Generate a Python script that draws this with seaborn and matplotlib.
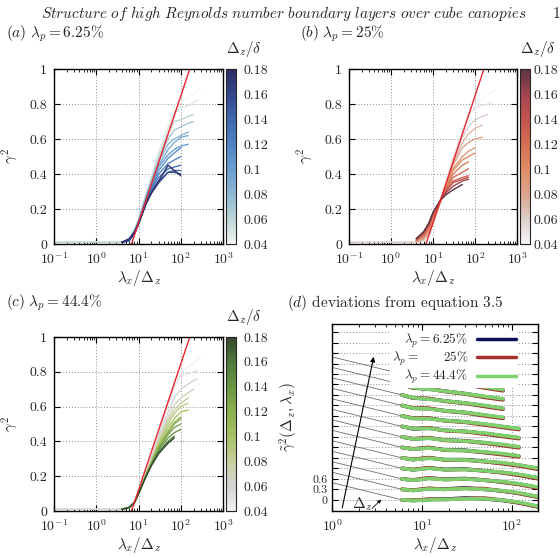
import numpy as np
import pandas as pd
import seaborn as sns
import matplotlib.pyplot as plt
from matplotlib.colors import LinearSegmentedColormap, Normalize
from matplotlib.cm import ScalarMappable
from matplotlib.lines import Line2D
from matplotlib.ticker import LogLocator, NullFormatter

sns.set_theme(style='ticks')
plt.rcParams['font.family'] = ['cmr10', 'DejaVu Serif']
plt.rcParams['mathtext.fontset'] = 'cm'
plt.rcParams['axes.formatter.use_mathtext'] = True

nan = np.nan

# ---- data for panels (a)-(c): gamma^2 against lambda_x / Delta_z
lam_ratio = [0.1, 1, 4, 6, 8, 10, 15, 20, 30, 50, 70, 100, 150, 200, 250, 300]
dz_levels = [0.04, 0.05, 0.06, 0.07, 0.08, 0.09, 0.10, 0.11, 0.12, 0.13, 0.14, 0.16, 0.18]

gamma_a = [
    [0.01, 0.01, 0.01, 0.03, 0.09, 0.15, 0.29, 0.39, 0.53, 0.68, 0.77, 0.81, 0.84, 0.86, 0.88, 0.89],
    [0.01, 0.01, 0.01, 0.03, 0.08, 0.14, 0.28, 0.38, 0.52, 0.66, 0.75, 0.78, 0.79, 0.81, 0.82, nan],
    [0.01, 0.01, 0.01, 0.03, 0.08, 0.14, 0.28, 0.37, 0.50, 0.63, 0.70, 0.71, 0.73, 0.74, nan, nan],
    [nan, nan, 0.01, 0.02, 0.07, 0.13, 0.27, 0.36, 0.48, 0.60, 0.65, 0.67, 0.69, 0.70, nan, nan],
    [nan, nan, 0.01, 0.02, 0.07, 0.13, 0.27, 0.35, 0.47, 0.57, 0.60, 0.62, 0.64, nan, nan, nan],
    [nan, nan, 0.01, 0.02, 0.07, 0.13, 0.26, 0.34, 0.45, 0.54, 0.58, 0.61, 0.62, nan, nan, nan],
    [nan, nan, 0.01, 0.02, 0.07, 0.13, 0.26, 0.34, 0.44, 0.51, 0.54, 0.56, 0.57, nan, nan, nan],
    [nan, nan, 0.01, 0.02, 0.07, 0.12, 0.25, 0.33, 0.42, 0.49, 0.52, 0.55, nan, nan, nan, nan],
    [nan, nan, 0.01, 0.02, 0.06, 0.12, 0.24, 0.32, 0.40, 0.46, 0.48, 0.50, nan, nan, nan, nan],
    [nan, nan, 0.01, 0.02, 0.06, 0.12, 0.24, 0.31, 0.38, 0.43, 0.44, 0.45, nan, nan, nan, nan],
    [nan, nan, 0.01, 0.02, 0.06, 0.12, 0.23, 0.30, 0.36, 0.41, 0.42, 0.42, nan, nan, nan, nan],
    [nan, nan, 0.01, 0.02, 0.06, 0.11, 0.23, 0.29, 0.35, 0.41, 0.41, 0.40, nan, nan, nan, nan],
    [nan, nan, 0.01, 0.03, 0.07, 0.12, 0.23, 0.29, 0.36, 0.45, 0.42, 0.39, nan, nan, nan, nan],
]
gamma_b = [
    [0.01, 0.01, 0.01, 0.02, 0.05, 0.11, 0.25, 0.35, 0.50, 0.66, 0.75, 0.79, 0.83, 0.85, 0.87, 0.88],
    [0.01, 0.01, 0.01, 0.02, 0.05, 0.11, 0.24, 0.34, 0.49, 0.64, 0.73, 0.78, 0.79, 0.80, 0.81, nan],
    [0.01, 0.01, 0.01, 0.02, 0.06, 0.12, 0.24, 0.34, 0.48, 0.61, 0.67, 0.71, 0.73, 0.74, nan, nan],
    [nan, nan, 0.01, 0.03, 0.06, 0.12, 0.24, 0.33, 0.46, 0.58, 0.63, 0.66, 0.68, nan, nan, nan],
    [nan, nan, 0.01, 0.03, 0.07, 0.13, 0.24, 0.33, 0.45, 0.55, 0.58, 0.60, 0.61, nan, nan, nan],
    [nan, nan, 0.02, 0.04, 0.08, 0.14, 0.24, 0.32, 0.43, 0.50, 0.53, 0.55, nan, nan, nan, nan],
    [nan, nan, 0.02, 0.04, 0.08, 0.14, 0.24, 0.32, 0.42, 0.48, 0.50, 0.52, nan, nan, nan, nan],
    [nan, nan, 0.02, 0.05, 0.09, 0.15, 0.25, 0.31, 0.40, 0.45, 0.47, nan, nan, nan, nan, nan],
    [nan, nan, 0.02, 0.05, 0.10, 0.16, 0.25, 0.31, 0.38, 0.41, 0.43, nan, nan, nan, nan, nan],
    [nan, nan, 0.03, 0.06, 0.11, 0.17, 0.25, 0.30, 0.36, 0.38, 0.39, nan, nan, nan, nan, nan],
    [nan, nan, 0.03, 0.06, 0.11, 0.17, 0.25, 0.30, 0.35, 0.37, 0.38, nan, nan, nan, nan, nan],
    [nan, nan, 0.03, 0.07, 0.12, 0.18, 0.25, 0.29, 0.33, 0.36, 0.37, nan, nan, nan, nan, nan],
    [nan, nan, 0.03, 0.07, 0.12, 0.18, 0.25, 0.28, 0.31, 0.34, nan, nan, nan, nan, nan, nan],
]
gamma_c = [
    [0.01, 0.01, 0.01, 0.02, 0.05, 0.10, 0.23, 0.32, 0.46, 0.63, 0.74, 0.80, 0.83, 0.85, 0.87, 0.89],
    [0.01, 0.01, 0.01, 0.02, 0.05, 0.10, 0.22, 0.31, 0.45, 0.61, 0.71, 0.78, 0.79, 0.80, 0.81, nan],
    [0.01, 0.01, 0.01, 0.02, 0.05, 0.10, 0.22, 0.30, 0.43, 0.57, 0.65, 0.70, 0.73, 0.75, 0.76, nan],
    [nan, nan, 0.01, 0.02, 0.05, 0.10, 0.22, 0.29, 0.41, 0.54, 0.61, 0.65, 0.68, 0.70, nan, nan],
    [nan, nan, 0.01, 0.02, 0.05, 0.10, 0.21, 0.29, 0.40, 0.52, 0.58, 0.62, 0.65, nan, nan, nan],
    [nan, nan, 0.01, 0.02, 0.05, 0.10, 0.21, 0.28, 0.39, 0.50, 0.56, 0.60, 0.62, nan, nan, nan],
    [nan, nan, 0.01, 0.02, 0.05, 0.10, 0.21, 0.28, 0.38, 0.48, 0.53, 0.57, 0.58, nan, nan, nan],
    [nan, nan, 0.01, 0.02, 0.05, 0.10, 0.20, 0.27, 0.37, 0.46, 0.51, 0.54, nan, nan, nan, nan],
    [nan, nan, 0.01, 0.02, 0.05, 0.10, 0.20, 0.27, 0.36, 0.45, 0.50, 0.53, nan, nan, nan, nan],
    [nan, nan, 0.01, 0.02, 0.05, 0.10, 0.20, 0.27, 0.36, 0.44, 0.48, 0.50, nan, nan, nan, nan],
    [nan, nan, 0.01, 0.02, 0.05, 0.10, 0.20, 0.27, 0.35, 0.42, 0.45, 0.47, nan, nan, nan, nan],
    [nan, nan, 0.01, 0.02, 0.05, 0.10, 0.20, 0.26, 0.34, 0.40, 0.43, nan, nan, nan, nan, nan],
    [nan, nan, 0.01, 0.02, 0.05, 0.10, 0.20, 0.26, 0.33, 0.39, 0.42, nan, nan, nan, nan, nan],
]

# equation 3.5 (red line), end points
model_lam = [6.8, 163]
model_gamma = [0.0, 1.0]

# ---- data for panel (d): deviations, one row per Delta_z, shifted by 0.3
lam_dev = [6, 8, 12, 18, 30, 50, 80, 120, 200]
row_offsets = [0.0, 0.3, 0.6, 0.9, 1.2, 1.5, 1.8, 2.1, 2.4, 2.7, 3.0, 3.3, 3.6]
dev_grid = [0.0, 0.3, 0.6, 0.9, 1.2, 1.5, 1.8, 2.1, 2.4, 2.7, 3.0, 3.3, 3.6, 3.9, 4.2, 4.5, 4.8]
dev_ticklabels = ['0', '0.3', '0.6']
thin_lam = [1, 6]
thin_dev = [0.49, 0.0]

dev_625 = [
    [0.00, -0.02, 0.01, 0.02, 0.05, 0.03, -0.02, -0.08, -0.20],
    [0.00, -0.03, 0.02, 0.01, 0.04, 0.00, -0.05, -0.11, -0.22],
    [0.00, -0.04, 0.02, -0.01, 0.01, -0.04, -0.09, -0.15, -0.25],
    [0.00, -0.04, 0.01, -0.03, -0.02, -0.07, -0.12, -0.18, -0.28],
    [0.00, -0.05, 0.00, -0.05, -0.05, -0.10, -0.15, -0.21, -0.31],
    [0.00, -0.05, -0.01, -0.07, -0.08, -0.14, -0.19, -0.25, nan],
    [0.00, -0.06, -0.03, -0.09, -0.11, -0.17, -0.23, -0.29, nan],
    [0.00, -0.07, -0.05, -0.11, -0.14, -0.20, -0.27, -0.33, nan],
    [0.00, -0.07, -0.07, -0.13, -0.17, -0.24, -0.31, -0.37, nan],
    [0.00, -0.08, -0.09, -0.15, -0.20, -0.28, -0.35, nan, nan],
    [0.00, -0.09, -0.11, -0.17, -0.23, -0.31, -0.39, nan, nan],
    [0.00, -0.10, -0.13, -0.19, -0.26, -0.35, -0.42, nan, nan],
    [0.00, -0.10, -0.15, -0.21, -0.29, -0.38, -0.46, nan, nan],
]
dev_25 = [
    [0.00, -0.01, 0.02, 0.01, 0.04, 0.05, -0.01, -0.09, -0.21],
    [0.00, -0.02, 0.03, 0.00, 0.03, 0.02, -0.05, -0.12, -0.23],
    [0.00, -0.03, 0.03, -0.02, 0.00, -0.03, -0.10, -0.16, -0.27],
    [0.00, -0.03, 0.02, -0.04, -0.03, -0.07, -0.13, -0.20, -0.30],
    [0.00, -0.04, 0.01, -0.06, -0.06, -0.11, -0.17, -0.23, -0.33],
    [0.00, -0.04, 0.00, -0.08, -0.09, -0.15, -0.21, -0.27, nan],
    [0.00, -0.05, -0.02, -0.10, -0.12, -0.18, -0.25, -0.31, nan],
    [0.00, -0.06, -0.04, -0.12, -0.15, -0.22, -0.29, -0.35, nan],
    [0.00, -0.06, -0.06, -0.14, -0.18, -0.26, -0.33, -0.39, nan],
    [0.00, -0.07, -0.08, -0.16, -0.21, -0.30, -0.37, nan, nan],
    [0.00, -0.08, -0.10, -0.18, -0.24, -0.33, -0.41, nan, nan],
    [0.00, -0.09, -0.12, -0.20, -0.27, -0.37, -0.44, nan, nan],
    [0.00, -0.09, -0.14, -0.22, -0.30, -0.40, -0.48, nan, nan],
]
dev_444 = [
    [0.00, -0.02, 0.00, 0.01, 0.03, 0.03, -0.01, -0.07, -0.19],
    [0.00, -0.03, 0.01, 0.00, 0.02, 0.00, -0.04, -0.10, -0.21],
    [0.00, -0.04, 0.01, -0.02, 0.00, -0.04, -0.08, -0.14, -0.24],
    [0.00, -0.04, 0.00, -0.04, -0.03, -0.07, -0.11, -0.17, -0.27],
    [0.00, -0.05, -0.01, -0.05, -0.06, -0.10, -0.14, -0.20, -0.30],
    [0.00, -0.05, -0.02, -0.07, -0.09, -0.13, -0.18, -0.24, nan],
    [0.00, -0.06, -0.04, -0.09, -0.12, -0.16, -0.22, -0.28, nan],
    [0.00, -0.06, -0.06, -0.11, -0.14, -0.19, -0.26, -0.32, nan],
    [0.00, -0.07, -0.08, -0.13, -0.17, -0.23, -0.30, -0.36, nan],
    [0.00, -0.08, -0.10, -0.15, -0.20, -0.27, -0.34, nan, nan],
    [0.00, -0.08, -0.12, -0.17, -0.23, -0.30, -0.38, nan, nan],
    [0.00, -0.09, -0.14, -0.19, -0.26, -0.34, -0.41, nan, nan],
    [0.00, -0.10, -0.16, -0.21, -0.29, -0.37, -0.45, nan, nan],
]
series_names = [r'$\lambda_p = 6.25\%$', r'$\lambda_p =\ \ \ \ \ \ 25\%$', r'$\lambda_p = 44.4\%$']
series_colors = ['#0c1158', '#a3302e', '#7fcf6c']

# ---- colour maps for Delta_z / delta
cmap_a = LinearSegmentedColormap.from_list('blues', ['#f5f5f2', '#bcd6d6', '#8db7d3', '#6a9fd0',
                                                     '#4f82c4', '#3f68ad', '#34478c', '#2c2c66'])
cmap_b = LinearSegmentedColormap.from_list('reds', ['#f5f5f5', '#dccfcb', '#dca48e', '#e08d66',
                                                    '#d56e52', '#c4534f', '#a34651', '#5e3340'])
cmap_c = LinearSegmentedColormap.from_list('greens', ['#f2f1f6', '#d3d3d3', '#c7d09d', '#a9c264',
                                                      '#8bb04e', '#6b9643', '#4f7a3c', '#35452f'])
norm = Normalize(0.04, 0.18)
cbar_ticks = [0.04, 0.06, 0.08, 0.10, 0.12, 0.14, 0.16, 0.18]
cbar_labels = ['0.04', '0.06', '0.08', '0.1', '0.12', '0.14', '0.16', '0.18']

fig = plt.figure(figsize=(5.6, 5.58), dpi=100)

grid_kw = dict(ls=(0, (1, 2)), color='#8c8c8c', lw=0.7)


def style_axes(ax):
    for s in ax.spines.values():
        s.set_linewidth(1.0)
        s.set_color('black')
    ax.tick_params(which='both', direction='in', top=True, right=True,
                   labelsize=10, color='black')
    ax.tick_params(axis='x', pad=5)
    ax.tick_params(axis='y', pad=5)
    ax.tick_params(which='major', length=4, width=0.8)
    ax.tick_params(which='minor', length=2, width=0.6)
    ax.xaxis.set_minor_locator(LogLocator(base=10, subs=range(2, 10), numticks=20))
    ax.xaxis.set_minor_formatter(NullFormatter())


def gamma_panel(rect, crect, table, cmap, label_y, cpad=5):
    ax = fig.add_axes(rect)
    cax = fig.add_axes(crect)
    rows = []
    for dz, vals in zip(dz_levels, table):
        for lam, g in zip(lam_ratio, vals):
            rows.append((dz, lam, g))
    df = pd.DataFrame(rows, columns=['dz', 'lam', 'gamma']).dropna()
    sns.lineplot(data=df, x='lam', y='gamma', hue='dz', units='dz', estimator=None,
                 palette=cmap, hue_norm=norm, legend=False, lw=1.0, sort=False, ax=ax)
    sns.lineplot(x=model_lam, y=model_gamma, color='#e8262e', lw=1.0, ax=ax)
    ax.set_xscale('log')
    ax.set_xlim(0.1, 1000)
    ax.set_ylim(0, 1)
    ax.set_xticks([0.1, 1, 10, 100, 1000])
    ax.set_yticks([0, 0.2, 0.4, 0.6, 0.8, 1])
    ax.set_yticklabels(['0', '0.2', '0.4', '0.6', '0.8', '1'])
    ax.grid(True, which='major', **grid_kw)
    style_axes(ax)
    ax.set_xlabel(r'$\lambda_x/\Delta_z$', fontsize=11, labelpad=1)
    ax.set_ylabel(r'$\gamma^2$', fontsize=11)
    ax.yaxis.set_label_coords(-0.2, 0.5)

    cb = fig.colorbar(ScalarMappable(norm=norm, cmap=cmap), cax=cax)
    cb.set_ticks(cbar_ticks)
    cb.set_ticklabels(cbar_labels)
    cb.outline.set_linewidth(0.8)
    cax.tick_params(direction='in', length=3.5, width=0.8, labelsize=10, left=True, right=True, pad=cpad)
    fig.text(crect[0], label_y, r'$\Delta_z/\delta$', fontsize=11, ha='left', va='center')
    return ax


gamma_panel([0.0964, 0.5627, 0.302, 0.3136], [0.4036, 0.5627, 0.018, 0.3136], gamma_a, cmap_a, 0.912)
gamma_panel([0.6232, 0.5627, 0.300, 0.3136], [0.9286, 0.5627, 0.018, 0.3136], gamma_b, cmap_b, 0.912, cpad=2.5)
gamma_panel([0.0964, 0.0842, 0.302, 0.3118], [0.4036, 0.0842, 0.018, 0.3118], gamma_c, cmap_c, 0.432)

# ---- panel (d)
axd = fig.add_axes([0.5929, 0.0842, 0.3679, 0.3351])
rows = []
for name, table in zip(series_names, [dev_625, dev_25, dev_444]):
    for k, (off, vals) in enumerate(zip(row_offsets, table)):
        for lam, d in zip(lam_dev, vals):
            rows.append((name, k, lam, d + off))
ddf = pd.DataFrame(rows, columns=['series', 'row', 'lam', 'dev']).dropna()

thin_rows = []
for k, off in enumerate(row_offsets):
    for lam, d in zip(thin_lam, thin_dev):
        thin_rows.append((k, lam, d + off))
tdf = pd.DataFrame(thin_rows, columns=['row', 'lam', 'dev'])
sns.lineplot(data=tdf, x='lam', y='dev', units='row', estimator=None, color='#6e6e6e',
             lw=0.6, sort=False, ax=axd)
sns.lineplot(data=ddf, x='lam', y='dev', hue='series', units='row', estimator=None,
             hue_order=series_names, palette=series_colors, lw=2.6, sort=False,
             legend=False, ax=axd)

axd.set_xscale('log')
axd.set_xlim(1, 196)
axd.set_ylim(-0.32, 5.03)
axd.set_xticks([1, 10, 100])
axd.set_yticks(dev_grid)
axd.set_yticklabels(dev_ticklabels + [''] * (len(dev_grid) - len(dev_ticklabels)))
axd.grid(True, which='major', **grid_kw)
style_axes(axd)
axd.tick_params(axis='y', labelsize=8.5, pad=3)
axd.set_xlabel(r'$\lambda_x/\Delta_z$', fontsize=11, labelpad=1)
axd.set_ylabel(r'$\tilde{\gamma}^2(\Delta_z, \lambda_x)$', fontsize=11)
axd.yaxis.set_label_coords(-0.155, 0.5)

axd.annotate('', xy=(2.95, 4.17), xytext=(1.28, -0.31),
             arrowprops=dict(arrowstyle='-|>', color='black', lw=0.8, mutation_scale=7))
axd.annotate('', xy=(3.72, 0.06), xytext=(2.64, -0.3),
             arrowprops=dict(arrowstyle='-|>', color='black', lw=0.6, mutation_scale=5))
axd.text(1.65, -0.13, r'$\Delta_z$', fontsize=11, ha='left', va='center')

handles = [Line2D([], [], color=c, lw=2.5) for c in series_colors]
leg = axd.legend(handles, series_names, loc='upper right', bbox_to_anchor=(0.93, 1.0),
                 markerfirst=False, fontsize=9.5, labelspacing=0.0, handlelength=2.9,
                 handletextpad=0.7, borderpad=0.1, frameon=True, fancybox=False)
leg.get_frame().set_facecolor('white')
leg.get_frame().set_edgecolor('none')
leg.get_frame().set_alpha(1)

# ---- page header and panel captions
fig.text(0.507, 0.975, r'$\mathit{Structure\ of\ high\ Reynolds\ number\ boundary\ layers\ over\ cube\ canopies}$',
         fontsize=11, ha='center', va='center')
fig.text(0.993, 0.975, '1', fontsize=11, ha='center', va='center')
fig.text(0.011, 0.940, r'$(a)\ \lambda_p = 6.25\%$', fontsize=11, ha='left', va='center')
fig.text(0.536, 0.940, r'$(b)\ \lambda_p = 25\%$', fontsize=11, ha='left', va='center')
fig.text(0.011, 0.457, r'$(c)\ \lambda_p = 44.4\%$', fontsize=11, ha='left', va='center')
fig.text(0.512, 0.457, r'$(d)$ deviations from equation 3.5', fontsize=11, ha='left', va='center')

fig.savefig('out.png', dpi=100, facecolor='white')
